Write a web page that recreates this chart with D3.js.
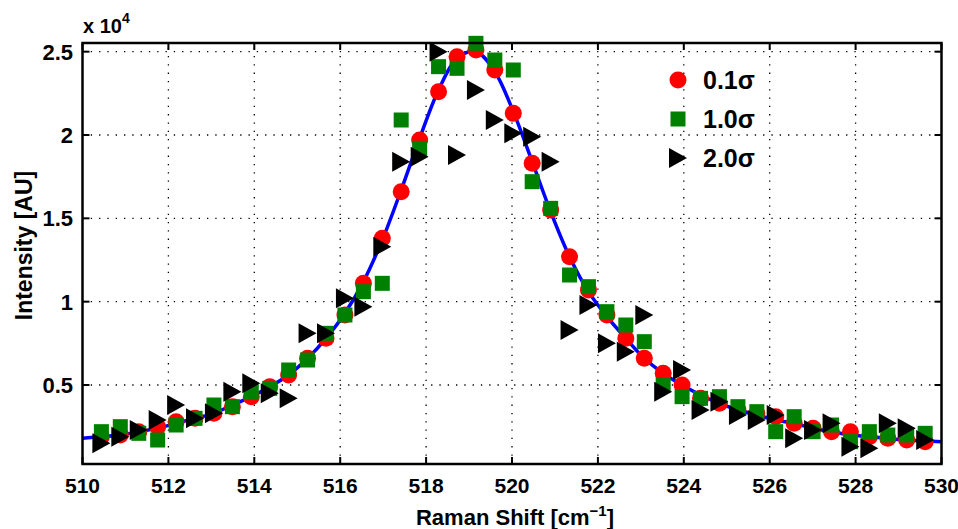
<!DOCTYPE html>
<html>
<head>
<meta charset="utf-8">
<script src="https://cdn.jsdelivr.net/npm/d3@7"></script>
<style>
  body { margin: 0; background: #fff; }
  svg text { font-family: "Liberation Sans", Arial, Helvetica, sans-serif; font-weight: bold; fill: #000; }
</style>
</head>
<body>
<div id="chart"></div>
<script>
// Raman shift positions of the measured points (cm^-1)
const shift = [
  510.44, 510.88, 511.31, 511.75, 512.18, 512.62, 513.06, 513.49, 513.93, 514.36,
  514.80, 515.24, 515.67, 516.11, 516.54, 516.98, 517.42, 517.85, 518.29, 518.72,
  519.16, 519.60, 520.03, 520.47, 520.90, 521.34, 521.78, 522.21, 522.65, 523.08,
  523.52, 523.96, 524.39, 524.83, 525.26, 525.70, 526.14, 526.57, 527.01, 527.44,
  527.88, 528.32, 528.75, 529.19, 529.62
];

// noise level 0.1 sigma
const sigma01 = [
  1900, 2000, 2200, 2500, 2800, 3000, 3300, 3700, 4300, 4900,
  5600, 6600, 7800, 9200, 11100, 13800, 16600, 19700, 22600, 24700,
  25100, 23900, 21300, 18300, 15500, 12700, 10700, 9200, 7800, 6600,
  5700, 5000, 4200, 3900, 3500, 3300, 3100, 2700, 2400, 2200,
  2200, 1900, 1800, 1700, 1600
];

// noise level 1.0 sigma
const sigma10 = [
  2200, 2500, 2100, 1700, 2600, 3000, 3800, 3700, 4600, 4800,
  5900, 6500, 8100, 9200, 10600, 11100, 20900, 19200, 24100, 24000,
  25500, 24500, 23900, 17200, 15600, 11600, 10900, 9400, 8600, 7600,
  5000, 4300, 4200, 4300, 3700, 3400, 2200, 3100, 2200, 2600,
  1600, 2200, 2000, 2000, 2100
];

// noise level 2.0 sigma
const sigma20 = [
  1500, 1900, 2300, 2900, 3800, 3000, 3300, 4600, 5100, 4500,
  4200, 8100, 8100, 10200, 9700, 13300, 18400, 18700, 25000, 18800,
  22700, 20900, 20100, 19900, 18400, 8300, 9800, 7500, 7000, 9200,
  4600, 5900, 3500, 4000, 3200, 2900, 3200, 1800, 2300, 2700,
  1300, 1200, 2700, 2400, 1700
];

// fitted curve (blue line)
const fitShift = [
  510.00, 510.44, 510.88, 511.31, 511.75, 512.18, 512.62, 513.06, 513.49, 513.93,
  514.36, 514.80, 515.24, 515.67, 516.11, 516.54, 516.98, 517.42, 517.85, 518.29,
  518.72, 519.16, 519.60, 520.03, 520.47, 520.90, 521.34, 521.78, 522.21, 522.65,
  523.08, 523.52, 523.96, 524.39, 524.83, 525.26, 525.70, 526.14, 526.57, 527.01,
  527.44, 527.88, 528.32, 528.75, 529.19, 529.62, 530.00
];
const fitIntensity = [
  1800, 1900, 2000, 2200, 2400, 2700, 3000, 3300, 3800, 4300,
  4900, 5600, 6600, 7800, 9300, 11200, 13700, 16700, 19800, 22700,
  24600, 25000, 23800, 21400, 18400, 15400, 12700, 10600, 9100, 7800,
  6600, 5700, 5000, 4400, 3900, 3500, 3200, 2900, 2700, 2400,
  2200, 2000, 1900, 1800, 1700, 1650, 1600
];

const xTicks = [510, 512, 514, 516, 518, 520, 522, 524, 526, 528, 530];
const yTicks = [5000, 10000, 15000, 20000, 25000];
const yTickLabels = ['0.5', '1', '1.5', '2', '2.5'];
const seriesNames = ['0.1\u03c3', '1.0\u03c3', '2.0\u03c3'];

const width = 958, height = 529;
const plot = { left: 82.5, right: 941.5, top: 43, bottom: 464 };

const svg = d3.select('#chart').append('svg')
  .attr('width', width)
  .attr('height', height);

svg.append('rect').attr('width', width).attr('height', height).attr('fill', '#fff');

const x = d3.scaleLinear().domain([510, 530]).range([plot.left, plot.right]);
const y = d3.scaleLinear().domain([260, 25520]).range([plot.bottom, plot.top]);

// dotted grid
const grid = svg.append('g')
  .attr('stroke', '#000')
  .attr('stroke-width', 1.3)
  .attr('stroke-dasharray', '1.3,7');
grid.selectAll('.gx')
  .data(xTicks.filter(d => d > 510 && d < 530))
  .join('line')
  .attr('x1', d => x(d)).attr('x2', d => x(d))
  .attr('y1', plot.bottom).attr('y2', plot.top);
grid.selectAll('.gy')
  .data(yTicks)
  .join('line')
  .attr('y1', d => y(d)).attr('y2', d => y(d))
  .attr('x1', plot.left).attr('x2', plot.right);

// inward ticks on all four sides
const tickLen = 7;
const ticks = svg.append('g').attr('stroke', '#000').attr('stroke-width', 2);
ticks.selectAll('.tb').data(xTicks).join('line')
  .attr('x1', d => x(d)).attr('x2', d => x(d))
  .attr('y1', plot.bottom).attr('y2', plot.bottom - tickLen);
ticks.selectAll('.tt').data(xTicks).join('line')
  .attr('x1', d => x(d)).attr('x2', d => x(d))
  .attr('y1', plot.top).attr('y2', plot.top + tickLen);
ticks.selectAll('.tl').data(yTicks).join('line')
  .attr('y1', d => y(d)).attr('y2', d => y(d))
  .attr('x1', plot.left).attr('x2', plot.left + tickLen);
ticks.selectAll('.tr').data(yTicks).join('line')
  .attr('y1', d => y(d)).attr('y2', d => y(d))
  .attr('x1', plot.right).attr('x2', plot.right - tickLen);

// fit line
const line = d3.line()
  .x((d, i) => x(fitShift[i]))
  .y(d => y(d))
  .curve(d3.curveCatmullRom);
svg.append('path')
  .attr('d', line(fitIntensity))
  .attr('fill', 'none')
  .attr('stroke', '#0000ff')
  .attr('stroke-width', 3.5);

// markers
const triPath = 'M-9,-10L-9,10L9,0Z';

svg.append('g').selectAll('circle')
  .data(sigma01)
  .join('circle')
  .attr('cx', (d, i) => x(shift[i]))
  .attr('cy', d => y(d))
  .attr('r', 8.5)
  .attr('fill', '#ff0000');

svg.append('g').selectAll('rect')
  .data(sigma10)
  .join('rect')
  .attr('x', (d, i) => x(shift[i]) - 7.5)
  .attr('y', d => y(d) - 7.5)
  .attr('width', 15)
  .attr('height', 15)
  .attr('fill', '#008000');

svg.append('g').selectAll('path')
  .data(sigma20)
  .join('path')
  .attr('d', triPath)
  .attr('transform', (d, i) => `translate(${x(shift[i])},${y(d)})`)
  .attr('fill', '#000');

// axes box
svg.append('rect')
  .attr('x', plot.left).attr('y', plot.top)
  .attr('width', plot.right - plot.left)
  .attr('height', plot.bottom - plot.top)
  .attr('fill', 'none')
  .attr('stroke', '#000')
  .attr('stroke-width', 2.5);

// tick labels
svg.append('g').selectAll('text')
  .data(xTicks)
  .join('text')
  .attr('x', d => x(d))
  .attr('y', 493)
  .attr('text-anchor', 'middle')
  .style('font-size', '21px')
  .text(d => d);

svg.append('g').selectAll('text')
  .data(yTicks)
  .join('text')
  .attr('x', 73)
  .attr('y', d => y(d))
  .attr('dy', '0.36em')
  .attr('text-anchor', 'end')
  .style('font-size', '22px')
  .text((d, i) => yTickLabels[i]);

// exponent
const expo = svg.append('text').attr('x', 83).attr('y', 33).style('font-size', '20px');
expo.append('tspan').text('x 10');
expo.append('tspan').attr('dy', -10).style('font-size', '14px').text('4');

// axis labels
const xl = svg.append('text')
  .attr('x', (plot.left + plot.right) / 2 + 3)
  .attr('y', 525)
  .attr('text-anchor', 'middle')
  .style('font-size', '22px');
xl.append('tspan').text('Raman Shift [cm');
xl.append('tspan').attr('dy', -9).style('font-size', '15px').text('\u22121');
xl.append('tspan').attr('dy', 9).text(']');

svg.append('text')
  .attr('transform', `translate(32,${(plot.top + plot.bottom) / 2 - 8}) rotate(-90)`)
  .attr('text-anchor', 'middle')
  .style('font-size', '23px')
  .text('Intensity [AU]');

// legend
const legendX = 678, legendY = [80, 119, 158], legendTextX = 703;
const legend = svg.append('g');
legend.append('circle').attr('cx', legendX).attr('cy', legendY[0]).attr('r', 8.5).attr('fill', '#ff0000');
legend.append('rect').attr('x', legendX - 7.5).attr('y', legendY[1] - 7.5)
  .attr('width', 15).attr('height', 15).attr('fill', '#008000');
legend.append('path').attr('d', triPath)
  .attr('transform', `translate(${legendX},${legendY[2]})`).attr('fill', '#000');
legend.selectAll('text')
  .data(seriesNames)
  .join('text')
  .attr('x', legendTextX)
  .attr('y', (d, i) => legendY[i])
  .attr('dy', '0.36em')
  .style('font-size', '25px')
  .text(d => d);
</script>
</body>
</html>
